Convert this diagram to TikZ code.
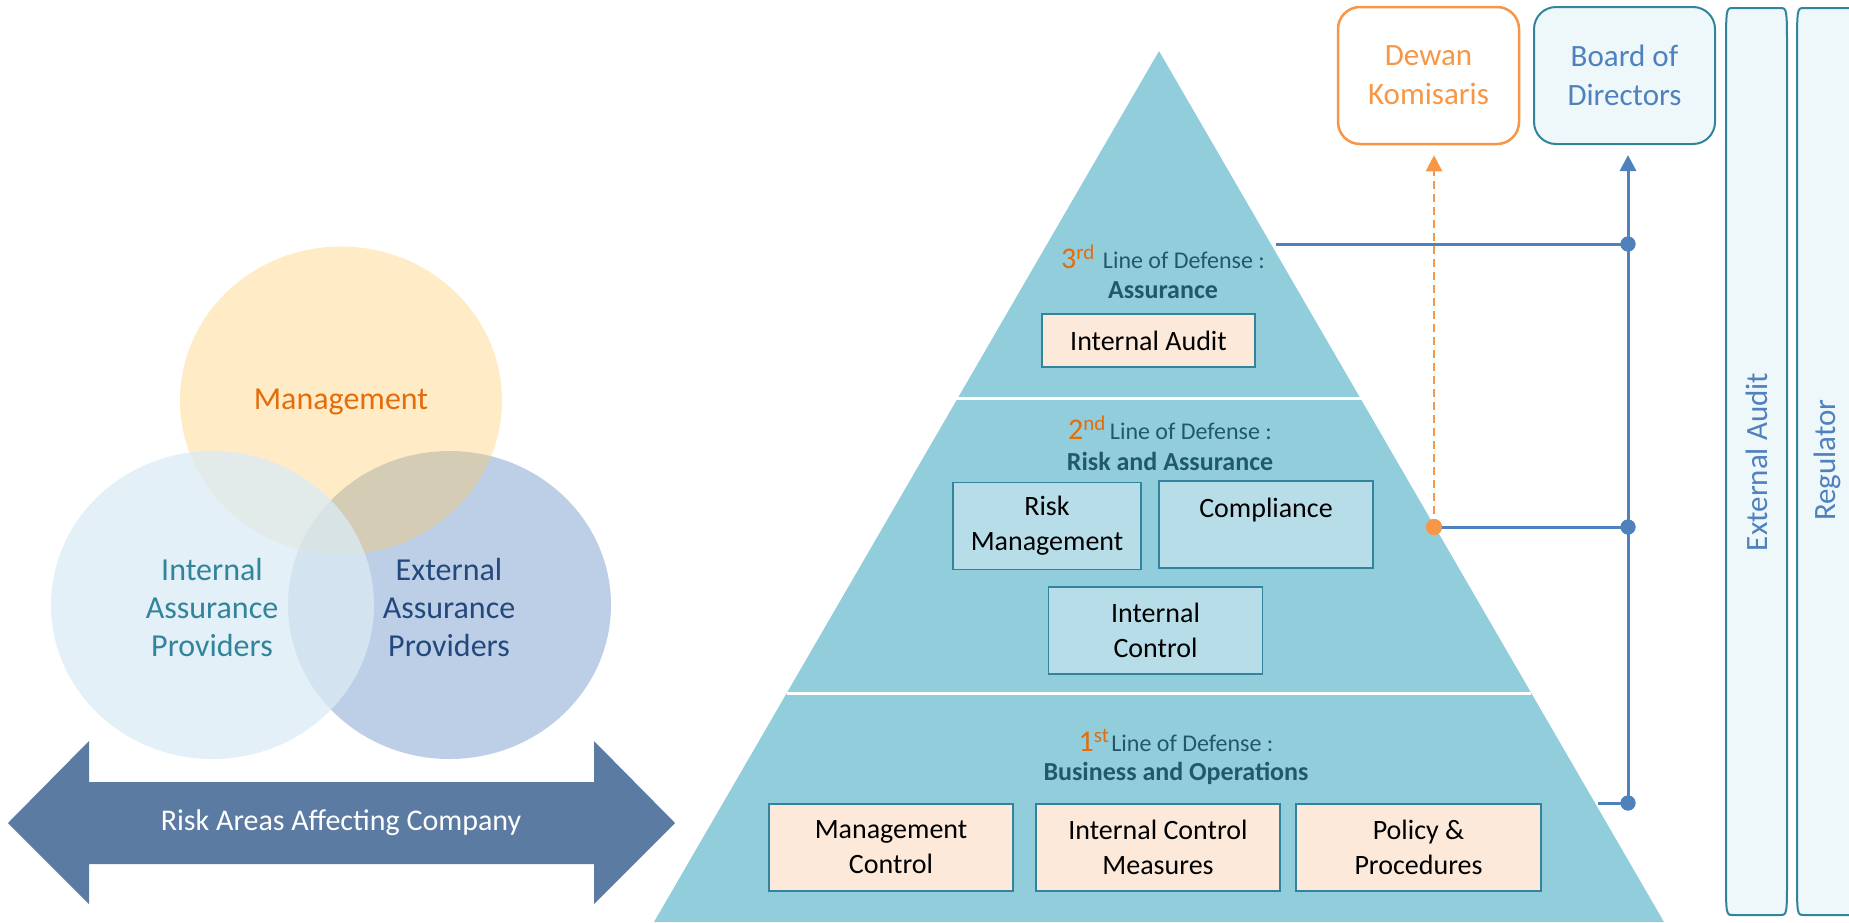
\documentclass[tikz,border=0pt]{standalone}
\usepackage{fontspec}
\setmainfont{Carlito}
\usetikzlibrary{arrows.meta,calc}

\definecolor{pyrfill}{HTML}{92CDDC}
\definecolor{tealc}{HTML}{31849B}
\definecolor{peachc}{HTML}{FCE9DA}
\definecolor{lbluec}{HTML}{B7DDE8}
\definecolor{deftxt}{HTML}{215968}
\definecolor{ordc}{HTML}{E46C0A}
\definecolor{lineblue}{HTML}{4F81BD}
\definecolor{orangec}{HTML}{F79646}
\definecolor{barfill}{HTML}{EEF7F9}
\definecolor{arrowc}{HTML}{5B7BA2}
\definecolor{extfill}{HTML}{BDCFE6}
\definecolor{mgmtfill}{HTML}{FFC965}
\definecolor{intfill}{HTML}{DAEBF4}
\definecolor{exttxt}{HTML}{23497C}

\tikzset{
  lbox/.style={draw=tealc, line width=1.5pt, fill=lbluec, inner sep=0pt,
    align=center, text=black, font=\fontsize{28}{35}\selectfont},
  pbox/.style={lbox, fill=peachc},
  head/.style={text=deftxt, font=\fontsize{24}{28}\selectfont, inner sep=0pt},
  bhead/.style={text=deftxt, font=\bfseries\fontsize{26}{30}\selectfont, inner sep=0pt},
  dot/.style={circle, fill=lineblue, inner sep=0pt, minimum size=15pt},
  link/.style={draw=lineblue, line width=3pt},
  venntxt/.style={align=center, font=\fontsize{32}{38}\selectfont, inner sep=0pt},
}

% tall side panel with elliptical corners: x1 x2 y1 y2
\newcommand\sidepanel[4]{%
  \path[draw=tealc, line width=2pt, fill=barfill]
    (#1+7,#3) -- (#2-7,#3) .. controls (#2,#3) .. (#2,#3+45)
    -- (#2,#4-40) .. controls (#2,#4) .. (#2-7,#4)
    -- (#1+7,#4) .. controls (#1,#4) .. (#1,#4-40)
    -- (#1,#3+45) .. controls (#1,#3) .. (#1+7,#3) -- cycle;}

\begin{document}
\begin{tikzpicture}[x=1pt,y=-1pt]
\useasboundingbox (0,0) rectangle (1849,922);
\clip (0,0) rectangle (1849,922);

% ---------- Venn diagram ----------
\fill[extfill] (449.5,605) ellipse [x radius=161.5, y radius=154];
\fill[mgmtfill, opacity=0.37] (341,400.5) ellipse [x radius=161, y radius=154];
\fill[intfill, opacity=0.76] (212.5,605) ellipse [x radius=161.5, y radius=154];

\node[venntxt, text=ordc] (mgmt) at (341,402) {Management};
\node[venntxt, text=tealc] (iap) at (212,607) {Internal\\Assurance\\Providers};
\node[venntxt, text=exttxt] (eap) at (449,607) {External\\Assurance\\Providers};

% ---------- double arrow ----------
\fill[arrowc] (8,823) -- (89,741) -- (89,782) -- (594,782) -- (594,741)
  -- (675,823) -- (594,904) -- (594,864) -- (89,864) -- (89,904) -- cycle;
\node[text=white, font=\fontsize{30}{34}\selectfont] (risk) at (341,823)
  {Risk Areas Affecting Company};

% ---------- pyramid ----------
\coordinate (apex) at (1159,51);
\coordinate (bl) at (654,922);
\coordinate (br) at (1664,922);
\fill[pyrfill] (apex) -- (br) -- (bl) -- cycle;
\draw[white, line width=3pt] ($(apex)!0.3995!(bl)$) -- ($(apex)!0.3995!(br)$);
\draw[white, line width=3pt] ($(apex)!0.7371!(bl)$) -- ($(apex)!0.7371!(br)$);

% 3rd line
\node[head] (h3) at (1163,257)
  {{\color{ordc}\fontsize{30}{30}\selectfont 3\textsuperscript{rd}}\hspace{8pt}Line of Defense :};
\node[bhead] (b3) at (1163,290) {Assurance};
\node[pbox, minimum width=213pt, minimum height=53pt] (ia) at (1148.5,340.5) {Internal Audit};

% 2nd line
\node[head] (h2) at (1170,428)
  {{\color{ordc}\fontsize{30}{30}\selectfont 2\textsuperscript{nd}}\hspace{4pt}Line of Defense :};
\node[bhead] (b2) at (1170,461) {Risk and Assurance};
\node[lbox, minimum width=188pt, minimum height=87pt] (rm) at (1047,526) {Risk\\Management};
\node[lbox, minimum width=214pt, text height=36pt, text depth=51pt] (co) at (1266,524.5) {Compliance};
\node[lbox, minimum width=214pt, minimum height=87pt] (ic) at (1155.5,630.5) {Internal\\Control};

% 1st line
\node[head] (h1) at (1176,740)
  {{\color{ordc}\fontsize{30}{30}\selectfont 1\textsuperscript{st}}\hspace{2pt}Line of Defense :};
\node[bhead] (b1) at (1176,773) {Business and Operations};
\node[pbox, minimum width=244pt, minimum height=87pt] (mc) at (891,847.5) {Management\\Control};
\node[pbox, minimum width=244pt, minimum height=87pt] (icm) at (1158,847.5) {Internal Control\\Measures};
\node[pbox, minimum width=245pt, minimum height=87pt] (pp) at (1418.5,847.5) {Policy \&\\Procedures};

% ---------- governance boxes ----------
\node[draw=orangec, line width=2.5pt, fill=white, rounded corners=22pt,
  minimum width=181pt, minimum height=137pt, align=center, text=orangec,
  font=\fontsize{31}{39}\selectfont] (dewan) at (1428.5,75.5) {Dewan\\Komisaris};
\node[draw=tealc, line width=2pt, fill=barfill, rounded corners=22pt,
  minimum width=181pt, minimum height=137pt, align=center, text=lineblue,
  font=\fontsize{31}{39}\selectfont] (board) at (1624.5,75.5) {Board of\\Directors};

\sidepanel{1726}{1787}{8}{915}
\sidepanel{1797}{1858}{8}{915}
\node[rotate=90, text=lineblue, font=\fontsize{31}{34}\selectfont] (ea) at (1757,462) {External Audit};
\node[rotate=90, text=lineblue, font=\fontsize{31}{34}\selectfont] (reg) at (1827,460) {Regulator};

% ---------- reporting lines ----------
\node[dot] (d1) at (1628,244) {};
\node[dot] (d2) at (1628,527) {};
\node[dot] (d3) at (1628,803) {};
\coordinate (p3) at (1276,244);
\coordinate (p1) at (1598,803);
\node[circle, fill=orangec, inner sep=0pt, minimum size=16pt] (od) at (1434,527) {};

\draw[link] (p3) -- (d1.center);
\draw[link] (p1) -- (d3.center);
\draw[link] (od.center) -- (d2.center);
\draw[link, -{Triangle[width=16pt,length=16pt]}, shorten >=10pt] (d3.center) -- (d3.center |- board.south);
\draw[orangec, line width=2.5pt, dash pattern=on 8pt off 5pt,
  -{Triangle[width=16pt,length=16pt]}, shorten >=10pt] (od.center) -- (od.center |- dewan.south);
\node[circle, fill=orangec, inner sep=0pt, minimum size=16pt] at (od) {};
\node[dot] at (d1) {};
\node[dot] at (d2) {};
\node[dot] at (d3) {};
\end{tikzpicture}
\end{document}
